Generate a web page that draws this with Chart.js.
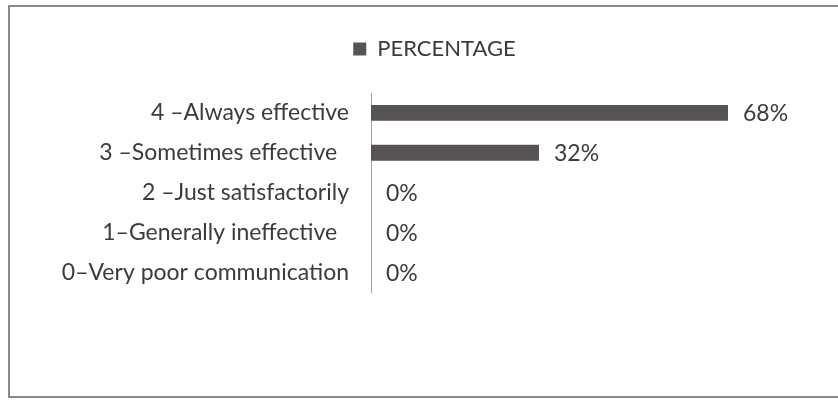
<!DOCTYPE html>
<html>
<head>
<meta charset="utf-8">
<script src="https://cdn.jsdelivr.net/npm/chart.js@4.4.1/dist/chart.umd.min.js"></script>
<style>
  html, body { margin: 0; padding: 0; background: #fff; }
  #wrap { width: 838px; height: 401px; }
</style>
</head>
<body>
<div id="wrap"><canvas id="chart" width="838" height="401"></canvas></div>
<script>
const categories = [
  "4 \u2013Always effective",
  "3 \u2013Sometimes effective  ",
  "2 \u2013Just satisfactorily",
  "1\u2013Generally ineffective  ",
  "0\u2013Very poor communication"
];
const seriesName = "PERCENTAGE";
const percentages = [68, 32, 0, 0, 0];

const textColor = "#3b3a3c";
const barColor = "#575355";

// outer frame of the scanned chart
const framePlugin = {
  id: "frame",
  beforeDraw(chart) {
    const ctx = chart.ctx;
    ctx.save();
    ctx.strokeStyle = "#8a8a8a";
    ctx.lineWidth = 2;
    ctx.strokeRect(9, 6, 840, 391);
    ctx.restore();
  }
};

// extra room under the legend, and nudge it right
const legendGap = {
  id: "legendGap",
  beforeInit(chart) {
    const fit = chart.legend.fit;
    chart.legend.fit = function () {
      fit.call(this);
      this.height += 23;
    };
  },
  afterLayout(chart) {
    chart.legend.left += 19;
    chart.legend.right += 19;
  }
};

// value labels at the end of every bar
const valueLabels = {
  id: "valueLabels",
  afterDatasetsDraw(chart) {
    const ctx = chart.ctx;
    ctx.save();
    ctx.font = "23px Lato";
    ctx.fillStyle = textColor;
    ctx.textAlign = "left";
    ctx.textBaseline = "middle";
    chart.getDatasetMeta(0).data.forEach((bar, i) => {
      ctx.fillText(percentages[i] + "%", bar.x + 15, bar.y + 1);
    });
    ctx.restore();
  }
};

new Chart(document.getElementById("chart"), {
  type: "bar",
  plugins: [framePlugin, legendGap, valueLabels],
  data: {
    labels: categories,
    datasets: [{
      label: seriesName,
      data: percentages,
      backgroundColor: barColor,
      barPercentage: 0.4,
      categoryPercentage: 1
    }]
  },
  options: {
    indexAxis: "y",
    responsive: false,
    animation: false,
    layout: { padding: { left: 40, right: 47, top: 18, bottom: 109 } },
    plugins: {
      tooltip: { enabled: false },
      legend: {
        display: true,
        position: "top",
        labels: {
          color: textColor,
          font: { family: "Lato", size: 22 },
          boxWidth: 13,
          boxHeight: 13,
          padding: 20
        }
      }
    },
    scales: {
      x: { display: false, min: 0, max: 80 },
      y: {
        grid: { display: false, drawTicks: false },
        border: { display: true, color: "#a0a0a0", width: 1 },
        ticks: {
          color: textColor,
          font: { family: "Lato", size: 23 },
          padding: 22
        },
        afterFit(scale) { scale.width = 371 - 40; }
      }
    }
  }
});
</script>
</body>
</html>
